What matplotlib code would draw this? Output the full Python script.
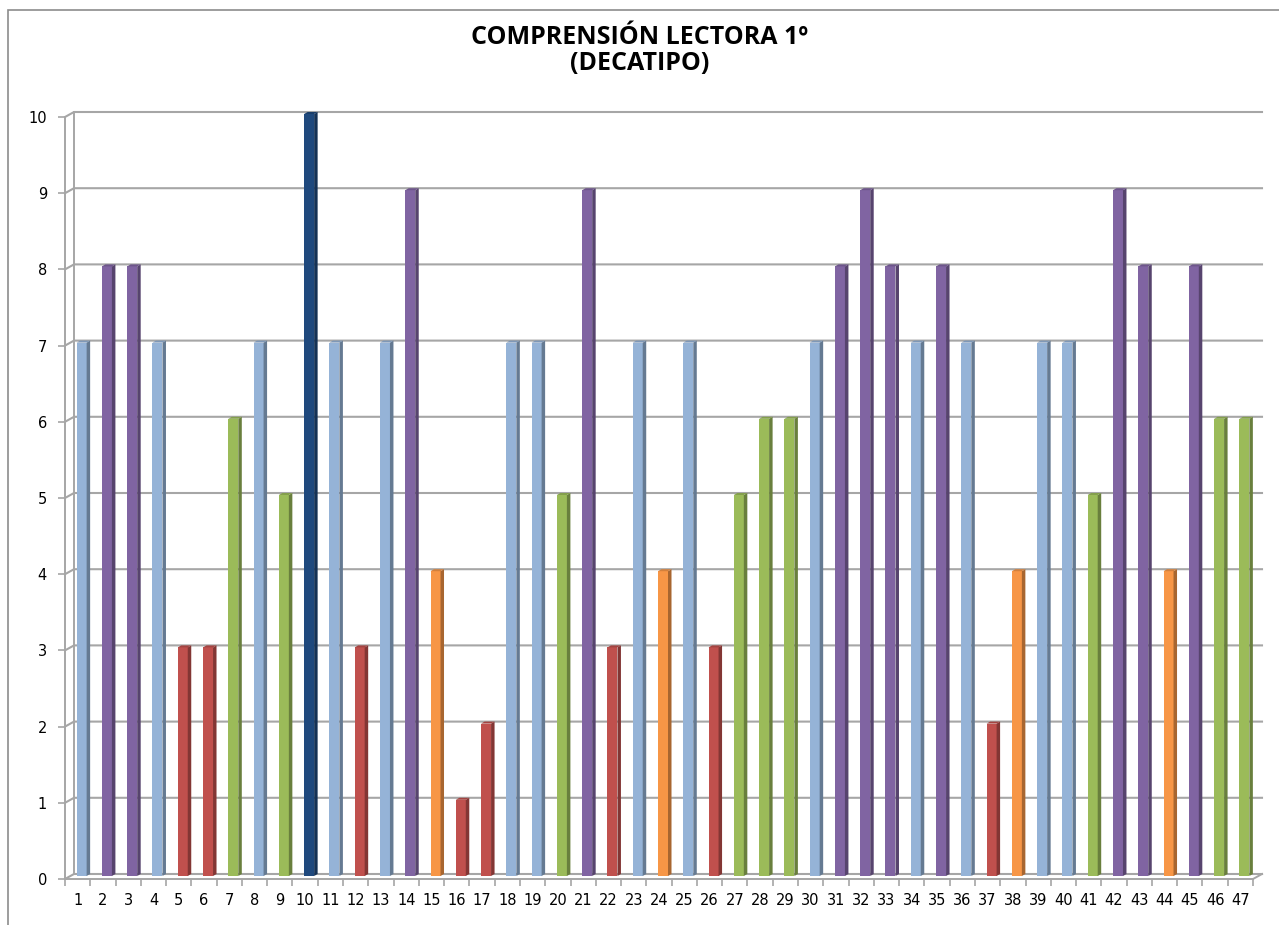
import matplotlib
matplotlib.use("Agg")
import matplotlib.pyplot as plt
from matplotlib.patches import Polygon, Rectangle
from matplotlib.colors import to_rgb

TITLE_LINES = ["COMPRENSIÓN LECTORA 1º", "(DECATIPO)"]
students = list(range(1, 48))
decatipo = [7, 8, 8, 7, 3, 3, 6, 7, 5, 10, 7, 3, 7, 9, 4, 1, 2, 7, 7, 5,
            9, 3, 7, 4, 7, 3, 5, 6, 6, 7, 8, 9, 8, 7, 8, 7, 2, 4, 7, 7,
            5, 9, 8, 4, 8, 6, 6]
y_ticks = list(range(0, 11))

COLOR_LIGHT = "#95B3D7"
COLOR_PURPLE = "#8064A2"
COLOR_RED = "#C0504D"
COLOR_GREEN = "#9BBB59"
COLOR_ORANGE = "#F79646"
COLOR_DARK = "#1F497D"
COLOR_GRID = "#A6A6A6"


def bar_color(v):
    if v == 10:
        return COLOR_DARK
    if v >= 8:
        return COLOR_PURPLE
    if v == 7:
        return COLOR_LIGHT
    if v >= 5:
        return COLOR_GREEN
    if v == 4:
        return COLOR_ORANGE
    return COLOR_RED


def shade(c, f):
    r, g, b = to_rgb(c)
    return (r * f, g * f, b * f)


W, H = 1279, 925
fig = plt.figure(figsize=(W / 100, H / 100), dpi=100)
fig.patch.set_facecolor("white")

# outer chart border (runs off the right/bottom edge as in the source)
fig.patches.append(Rectangle((8 / W, -0.1), 1.2, 1 - 10 / H + 0.1,
                             transform=fig.transFigure, fill=False,
                             edgecolor="#8C8C8C", lw=1.2))

x0, x1 = 65, 1253
y0, y1 = 879, 117
ax = fig.add_axes([x0 / W, 1 - y0 / H, (x1 - x0) / W, (y0 - y1) / H])
n = len(students)
ax.set_xlim(0.5, n + 0.5)
ax.set_ylim(0, 10)
ax.set_facecolor("none")

px = (x1 - x0) / n
py = (y0 - y1) / 10.0
DX, DY = 9 / px, 5 / py  # wall depth

# gridlines with oblique stub to the front axis
for t in y_ticks:
    ax.plot([0.5, 0.5 + DX, n + 0.5 + DX], [t, t + DY, t + DY],
            color=COLOR_GRID, lw=1.5, clip_on=False, zorder=1)
# left wall edge
ax.plot([0.5 + DX, 0.5 + DX], [DY, 10 + DY], color=COLOR_GRID, lw=1.4,
        clip_on=False, zorder=1)
# floor right edge
ax.plot([n + 0.5, n + 0.5 + DX], [0, DY], color=COLOR_GRID, lw=1.4,
        clip_on=False, zorder=1)

# bars: front face, darker side face and top
bw = 10 / px
ox, oy = 4 / px, 3 / py
sx, sy = 3.5 / px, 2 / py
for s, v in zip(students, decatipo):
    c = bar_color(v)
    left = s - bw / 2 + ox
    ax.add_patch(Rectangle((left, oy), bw, v, facecolor=c, edgecolor="none",
                           zorder=3, clip_on=False))
    side = [(left + bw, oy), (left + bw + sx, oy + sy),
            (left + bw + sx, v + oy + sy), (left + bw, v + oy)]
    ax.add_patch(Polygon(side, closed=True, facecolor=shade(c, 0.68),
                         edgecolor="none", zorder=3, clip_on=False))
    top = [(left, v + oy), (left + bw, v + oy),
           (left + bw + sx, v + oy + sy), (left + sx, v + oy + sy)]
    ax.add_patch(Polygon(top, closed=True, facecolor=shade(c, 0.85),
                         edgecolor="none", zorder=3, clip_on=False))

for side_name in ["top", "right"]:
    ax.spines[side_name].set_visible(False)
for side_name in ["left", "bottom"]:
    ax.spines[side_name].set_color(COLOR_GRID)
    ax.spines[side_name].set_linewidth(1.4)
    ax.spines[side_name].set_zorder(2)

ax.set_yticks(y_ticks)
ax.set_yticklabels([str(t) for t in y_ticks], fontsize=10.5, family="DejaVu Sans")
ax.tick_params(axis="y", length=5, width=1.2, color=COLOR_GRID, pad=8)

ax.set_xticks(students)
ax.set_xticklabels([str(s) for s in students], fontsize=10.5, family="DejaVu Sans")
ax.set_xticks([s + 0.5 for s in [0] + students], minor=True)
ax.tick_params(axis="x", which="major", length=0, pad=10)
ax.tick_params(axis="x", which="minor", length=5, width=1.2, color=COLOR_GRID)

for i, line in enumerate(TITLE_LINES):
    fig.text(0.5, 1 - (38 + 25 * i) / H, line, ha="center", va="center",
             fontsize=18, fontweight="bold", family="Open Sans")

fig.savefig("out.png", dpi=100, facecolor="white")
